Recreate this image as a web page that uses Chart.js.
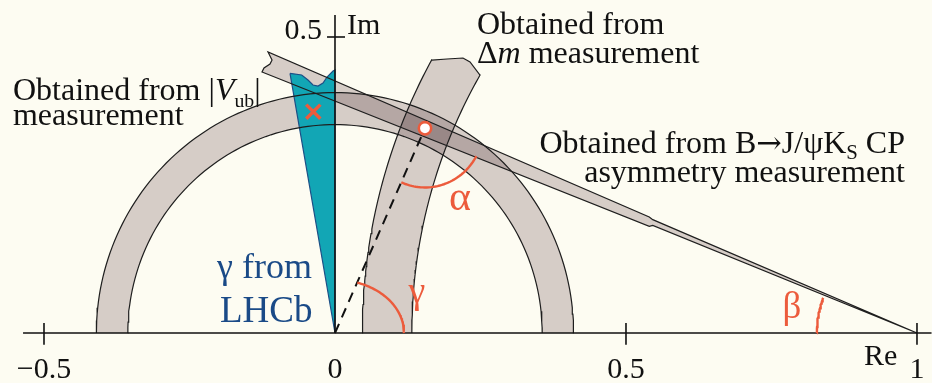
<!DOCTYPE html>
<html><head><meta charset="utf-8">
<script src="https://cdn.jsdelivr.net/npm/chart.js@4"></script>
<style>html,body{margin:0;padding:0;background:#fdfcf2;overflow:hidden}canvas{display:block}</style>
</head><body>
<canvas id="c" width="932" height="383"></canvas>
<script>
// ---------- data (Re / Im units) ----------
const xRange = [-0.5756, 1.0258];
const yRange = [-0.0845, 0.5625];
const xAxisSpan = [-0.536, 1.025];
const yAxisSpan = [0, 0.537];
const xTickValues = [-0.5, 0.5, 1];
const xTickLabelValues = [-0.5, 0, 0.5, 1];
const xTickLabels = ['\u22120.5', '0', '0.5', '1'];
const yTickValues = [0.5];
const yTickLabels = ['0.5'];

// |Vub| ring centred on the origin: [inner, outer]
const ringRx = [0.356, 0.410];
const ringRy = [0.352, 0.406];

// Delta m band: circle around (1,0)
const dmCenter = [1, 0];
const dmRadii = [0.868, 0.953];
const dmTopEdge = [[0.1667, 0.4611], [0.1924, 0.4628], [0.2199, 0.4645], [0.2320, 0.4578], [0.2491, 0.4358]];

// sin(2 beta) band from (1,0)
const betaApex = [1, 0];
const betaUpperKink = [[0.546, 0.1915], [0.540, 0.1958]];
const betaEnd = [[-0.1151, 0.4747], [-0.1082, 0.4611], [-0.1117, 0.4544], [-0.1220, 0.4476], [-0.1254, 0.4409]];
const betaLowerKink = [[0.540, 0.1802], [0.546, 0.1818]];

// gamma from LHCb wedge
const gammaLHCb = [[-0.0773, 0.4387], [-0.0572, 0.4358], [-0.0464, 0.4274], [-0.0378, 0.4189], [-0.0292, 0.4172],
  [-0.0206, 0.4223], [-0.0137, 0.4324], [-0.0034, 0.4426], [0, 0.4443], [0, 0]];

const apexPoint = [0.1546, 0.3458];
const vubCentral = [-0.0373, 0.3738];

// angle markers: centre, radii, start/end angle (deg)
const gammaArc = { c: [0, 0], rx: 0.1186, ry: 0.0898, a: [71.2, 0] };
const alphaArc = { c: apexPoint, rx: 0.100, ry: 0.100, a: [-114, -28] };
const betaArc = { c: [1, 0], rx: 0.172, ry: 0.169, a: [180, 159.5] };

// ---------- helpers ----------
const P = (a) => ({ x: a[0], y: a[1] });
function arcPts(cx, cy, rx, ry, a0, a1, n) {
  const out = [];
  for (let i = 0; i <= n; i++) {
    const t = (a0 + (a1 - a0) * i / n) * Math.PI / 180;
    out.push({ x: cx + rx * Math.cos(t), y: cy + ry * Math.sin(t) });
  }
  return out;
}
const deg = (p, c) => Math.atan2(p[1] - c[1], p[0] - c[0]) * 180 / Math.PI;

const ringOuter = arcPts(0, 0, ringRx[1], ringRy[1], 0, 180, 120);
const ringInner = arcPts(0, 0, ringRx[0], ringRy[0], 180, 0, 120);
const ringPoly = ringOuter.concat(ringInner, [ringOuter[0]]);

const dmOutA = deg(dmTopEdge[0], dmCenter);
const dmInA = deg(dmTopEdge[dmTopEdge.length - 1], dmCenter);
const dmOuter = arcPts(dmCenter[0], dmCenter[1], dmRadii[1], dmRadii[1], 180, dmOutA, 60);
const dmInner = arcPts(dmCenter[0], dmCenter[1], dmRadii[0], dmRadii[0], dmInA, 180, 60);
const dmPath = dmOuter.concat(dmTopEdge.map(P), dmInner);
const dmPoly = dmPath.concat([dmPath[0]]);

const betaPoly = [P(betaApex)].concat(betaUpperKink.map(P), betaEnd.map(P), betaLowerKink.map(P), [P(betaApex)]);
const tealPoly = gammaLHCb.map(P).concat([P(gammaLHCb[0])]);

const GRAY = 'rgb(216,208,210)';
const INK = '#1e1e1e';
const RED = '#ec5b3c';

function lineDs(data, o) {
  return Object.assign({ data, borderColor: INK, borderWidth: 1.2, pointRadius: 0, fill: false, tension: 0 }, o || {});
}

const datasets = [
  lineDs(ringPoly, { fill: 'shape', backgroundColor: GRAY, borderColor: 'transparent', borderWidth: 0, blend: 'multiply' }),
  lineDs(dmPoly, { fill: 'shape', backgroundColor: GRAY, borderColor: 'transparent', borderWidth: 0, blend: 'multiply' }),
  lineDs(betaPoly, { fill: 'shape', backgroundColor: GRAY, borderColor: 'transparent', borderWidth: 0, blend: 'multiply' }),
  lineDs(tealPoly, { fill: 'shape', backgroundColor: '#12a6b5', borderColor: '#1d4f86', borderWidth: 1.2 }),
  lineDs(ringOuter),
  lineDs(ringInner),
  lineDs(dmPath),
  lineDs(betaPoly),
  lineDs([{ x: xAxisSpan[0], y: 0 }, { x: xAxisSpan[1], y: 0 }], { borderColor: '#111', borderWidth: 1.6 }),
  lineDs([{ x: 0, y: yAxisSpan[0] }, { x: 0, y: yAxisSpan[1] }], { borderColor: '#111', borderWidth: 1.6 }),
  ...xTickValues.map(v => lineDs([{ x: v, y: 0.017 }, { x: v, y: -0.020 }], { borderColor: '#111', borderWidth: 1.6 })),
  ...yTickValues.map(v => lineDs([{ x: -0.0137, y: v }, { x: 0.0172, y: v }], { borderColor: '#111', borderWidth: 1.6 })),
  lineDs([P([0, 0]), P(apexPoint)], { borderColor: '#111', borderWidth: 2, borderDash: [10, 7] }),
  lineDs(arcPts(gammaArc.c[0], gammaArc.c[1], gammaArc.rx, gammaArc.ry, gammaArc.a[0], gammaArc.a[1], 40), { borderColor: RED, borderWidth: 2.4 }),
  lineDs(arcPts(alphaArc.c[0], alphaArc.c[1], alphaArc.rx, alphaArc.ry, alphaArc.a[0], alphaArc.a[1], 40), { borderColor: RED, borderWidth: 2.4 }),
  lineDs(arcPts(betaArc.c[0], betaArc.c[1], betaArc.rx, betaArc.ry, betaArc.a[0], betaArc.a[1], 30), { borderColor: RED, borderWidth: 2.4 }),
  { data: [P(vubCentral)], showLine: false, pointStyle: 'crossRot', pointRadius: 10, pointBorderWidth: 3.5, pointBorderColor: RED, pointBackgroundColor: RED, borderColor: RED },
  { data: [P(apexPoint)], showLine: false, pointStyle: 'circle', pointRadius: 6.2, pointBorderWidth: 2.6, pointBorderColor: RED, pointBackgroundColor: '#ffffff', borderColor: RED }
];
datasets.forEach((d, i) => { d.order = -i; });

// ---------- text labels ----------
const FONT = '"Liberation Serif", "Times New Roman", serif';
const ARROWFONT = '"DejaVu Serif", serif';
const textLabels = [
  { runs: [['Obtained from |'], ['V', 1, 'italic'], ['ub', 0.62, '', 7], ['|']], at: [-0.5533, 0.3936], align: 'left', size: 32, color: '#111' },
  { runs: [['measurement']], at: [-0.5533, 0.3514], align: 'left', size: 32, color: '#111' },
  { runs: [['Obtained from']], at: [0.2440, 0.5051], align: 'left', size: 32, color: '#111' },
  { runs: [['\u0394'], ['m', 1, 'italic'], [' measurement']], at: [0.2440, 0.4561], align: 'left', size: 32, color: '#111' },
  { runs: [['Obtained from B'], ['\u2192', 0.95, '', 0, ARROWFONT], ['J/\u03C8K'], ['S', 0.65, '', 6], [' CP']], at: [0.9794, 0.3041], align: 'right', size: 32, color: '#111' },
  { runs: [['asymmetry measurement']], at: [0.9794, 0.2551], align: 'right', size: 32, color: '#111' },
  { runs: [['\u03B3 from']], at: [-0.2027, 0.0929], align: 'left', size: 36, color: '#1a4a87' },
  { runs: [['LHCb']], at: [-0.1976, 0.0186], align: 'left', size: 37, color: '#1a4a87' },
  { runs: [['\u03B1']], at: [0.2148, 0.2078], align: 'center', size: 42, color: RED },
  { runs: [['\u03B3']], at: [0.1409, 0.0507], align: 'center', size: 38, color: RED },
  { runs: [['\u03B2']], at: [0.7852, 0.0253], align: 'center', size: 37, color: RED },
  { runs: [['Re']], at: [0.909, -0.054], align: 'left', size: 30, color: '#111' },
  { runs: [['Im']], at: [0.0206, 0.505], align: 'left', size: 30, color: '#111' },
  ...yTickValues.map((v, i) => ({ runs: [[yTickLabels[i]]], at: [-0.0223, v - 0.0034], align: 'right', size: 30, color: '#111' })),
  ...xTickLabelValues.map((v, i) => ({ runs: [[xTickLabels[i]]], at: [v, -0.076], align: 'center', size: 30, color: '#111' }))
];

function drawRuns(ctx, lab, px, py) {
  const runs = lab.runs.map(r => ({ t: r[0], k: r[1] || 1, st: r[2] || '', dy: r[3] || 0, f: r[4] || FONT }));
  let total = 0;
  runs.forEach(r => { ctx.font = `${r.st} ${lab.size * r.k}px ${r.f}`; r.w = ctx.measureText(r.t).width; total += r.w; });
  let x = lab.align === 'right' ? px - total : lab.align === 'center' ? px - total / 2 : px;
  ctx.fillStyle = lab.color;
  runs.forEach(r => { ctx.font = `${r.st} ${lab.size * r.k}px ${r.f}`; ctx.fillText(r.t, x, py + r.dy); x += r.w; });
}

function setBlend(chart, idx) {
  const ds = idx == null ? null : chart.data.datasets[idx];
  chart.ctx.globalCompositeOperation = (ds && ds.blend) || 'source-over';
}
function drawOrder(chart) { return chart.getSortedVisibleDatasetMetas().map(m => m.index).reverse(); }

const diagramPlugin = {
  id: 'diagram',
  beforeDraw(chart) {
    const c = chart.ctx; c.save(); c.fillStyle = '#fdfcf2'; c.fillRect(0, 0, chart.width, chart.height); c.restore();
  },
  beforeDatasetsDraw(chart) { setBlend(chart, drawOrder(chart)[0]); },
  afterDatasetDraw(chart, args) {
    const o = drawOrder(chart); const i = o.indexOf(args.index); setBlend(chart, o[i + 1]);
  },
  afterDatasetsDraw(chart) { chart.ctx.globalCompositeOperation = 'source-over'; },
  afterDraw(chart) {
    const ctx = chart.ctx, sx = chart.scales.x, sy = chart.scales.y;
    ctx.save(); ctx.globalCompositeOperation = 'source-over'; ctx.textBaseline = 'alphabetic'; ctx.textAlign = 'left';
    textLabels.forEach(l => drawRuns(ctx, l, sx.getPixelForValue(l.at[0]), sy.getPixelForValue(l.at[1])));
    ctx.restore();
  }
};

new Chart(document.getElementById('c'), {
  type: 'line',
  data: { datasets },
  options: {
    responsive: false, animation: false, events: [],
    layout: { padding: 0, autoPadding: false },
    elements: { line: { tension: 0 } },
    scales: {
      x: { type: 'linear', min: xRange[0], max: xRange[1], display: false },
      y: { type: 'linear', min: yRange[0], max: yRange[1], display: false }
    },
    plugins: { legend: { display: false }, tooltip: { enabled: false } }
  },
  plugins: [diagramPlugin]
});
</script>
</body></html>
